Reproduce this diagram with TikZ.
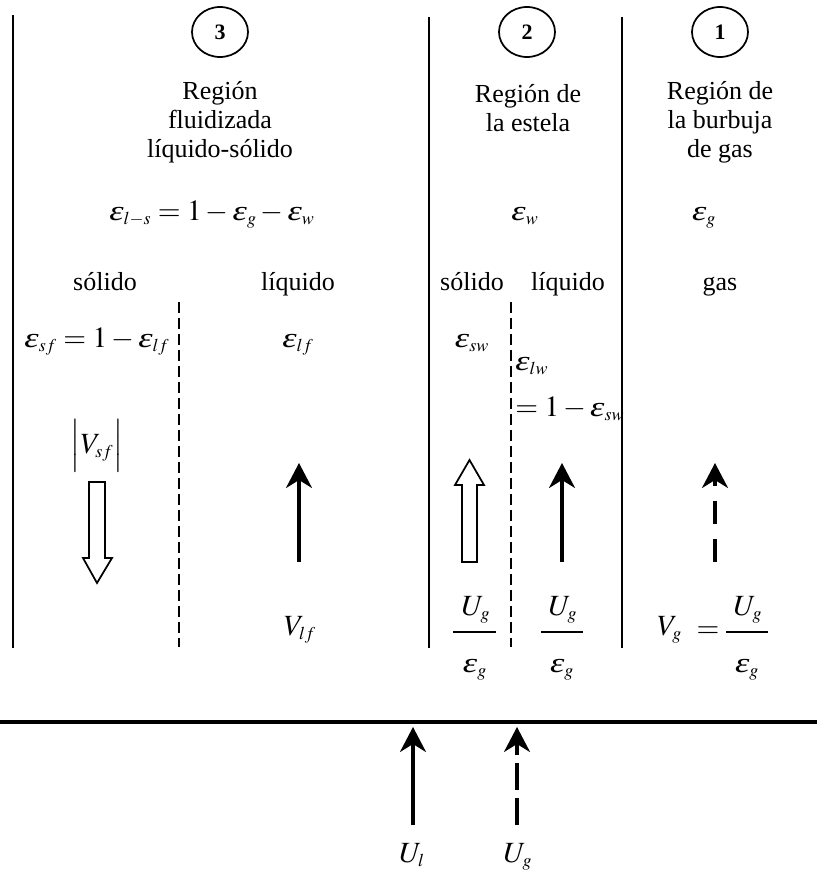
\documentclass[tikz,border=0pt]{standalone}
\usepackage{amsmath}
\usepackage{mathptmx}
\usepackage{graphicx}
\usepackage{fontspec}
\setmainfont{Liberation Serif}
\usetikzlibrary{arrows.meta,shapes.geometric}
\DeclareMathSizes{22}{22}{13.5}{10}
\newcommand\eps{\mbox{\fontsize{21pt}{21pt}\selectfont\itshape\scalebox{1.3}[1]{ε}}}
\tikzset{
  wall/.style={line width=1.5pt},
  divider/.style={line width=1.1pt, dash pattern=on 8.25pt off 3.75pt},
  circ/.style={draw, ellipse, minimum width=42pt, minimum height=37.5pt, line width=1.3pt, inner sep=0pt, font=\fontsize{16.5}{17}\selectfont\bfseries},
  txt/.style={font=\fontsize{19.5}{21.75}\selectfont, inner sep=0pt, align=center},
  mth/.style={font=\fontsize{22}{24}\selectfont, inner sep=0pt, anchor=base},
  bar/.style={line width=1.1pt},
  flow/.style={line width=2.4pt, -{Stealth[length=18.75pt,width=19.5pt,inset=6pt]}},
  hollow/.style={line width=1.3pt, draw, fill=white, line join=miter},
}
\begin{document}
\begin{tikzpicture}[x=0.75pt,y=-0.75pt]
\useasboundingbox (0,0) rectangle (817,875);
% walls
\coordinate (w1t) at (13,15);   \coordinate (w1b) at (13,648);
\coordinate (w2t) at (429,17);  \coordinate (w2b) at (429,648);
\coordinate (w3t) at (622,17);  \coordinate (w3b) at (622,648);
\draw[wall] (w1t) -- (w1b);
\draw[wall] (w2t) -- (w2b);
\draw[wall] (w3t) -- (w3b);
\coordinate (d1t) at (179,302); \coordinate (d1b) at (179,647);
\coordinate (d2t) at (511,302); \coordinate (d2b) at (511,647);
\draw[divider] (d1t) -- (d1b);
\draw[divider] (d2t) -- (d2b);
% distributor
\coordinate (hl) at (0,722); \coordinate (hr) at (817,722);
\draw[line width=3pt] (hl) -- (hr);
% circles
\node[circ] (c3) at (220,32) {3};
\node[circ] (c2) at (527,32) {2};
\node[circ] (c1) at (720,32) {1};
% titles
\node[txt] (t3) at (220,122) {Región\\fluidizada\\líquido-sólido};
\node[txt] (t2) at (528,108) {Región de\\la estela};
\node[txt] (t1) at (720,122) {Región de\\la burbuja\\de gas};
% holdups
\node[mth] (e3) at (212,220) {$\eps_{l-s}=1-\eps_{g}-\eps_{w}$};
\node[mth] (e2) at (525,220) {$\eps_{w}$};
\node[mth] (e1) at (704,220) {$\eps_{g}$};
% phase labels
\node[txt, anchor=base] (s3) at (105,290) {sólido};
\node[txt, anchor=base] (l3) at (298,290) {líquido};
\node[txt, anchor=base] (s2) at (472,290) {sólido};
\node[txt, anchor=base] (l2) at (568,290) {líquido};
\node[txt, anchor=base] (g1) at (720,290) {gas};
\node[mth] (esf) at (97,347) {$\eps_{sf}=1-\eps_{lf}$};
\node[mth] (elf) at (298,347) {$\eps_{lf}$};
\node[mth] (esw) at (472,347) {$\eps_{sw}$};
\node[mth, anchor=base west] (elw) at (515,370) {$\eps_{lw}$};
\node[mth, anchor=base west] (elw2) at (515,416) {$=1-\eps_{sw}$};
\node[mth, anchor=center] (vsf) at (97,446) {$\Big|V_{sf}\Big|$};
% hollow arrows
\draw[hollow] (89,482) -- (105,482) -- (105,558) -- (112,558) -- (97,583) -- (83,558) -- (89,558) -- cycle;
\draw[hollow] (462,562) -- (477,562) -- (477,485) -- (484,485) -- (469.5,460) -- (455,485) -- (462,485) -- cycle;
% flow arrows
\coordinate (a1b) at (299,562); \coordinate (a1t) at (299,463);
\coordinate (a2b) at (562,562); \coordinate (a2t) at (562,463);
\coordinate (a3b) at (715,562); \coordinate (a3t) at (715,463);
\draw[flow] (a1b) -- (a1t);
\draw[flow] (a2b) -- (a2t);
\draw[flow, dash pattern=on 17.25pt off 11.25pt] (a3b) -- (a3t);
% velocities
\node[mth] (vlf) at (300,635) {$V_{lf}$};
\node[mth] (f1n) at (476,615) {$U_{g}$};
\coordinate (f1l) at (453,632); \coordinate (f1r) at (496,632);
\draw[bar] (f1l) -- (f1r);
\node[mth] (f1d) at (475,672) {$\eps_{g}$};
\node[mth] (f2n) at (563,615) {$U_{g}$};
\coordinate (f2l) at (541,632); \coordinate (f2r) at (583,632);
\draw[bar] (f2l) -- (f2r);
\node[mth] (f2d) at (562,672) {$\eps_{g}$};
\node[mth, anchor=base west] (vg) at (657,635) {$V_{g}$};
\node[mth, anchor=center] (eq) at (708,632) {$=$};
\node[mth] (f3n) at (748,615) {$U_{g}$};
\coordinate (f3l) at (726,632); \coordinate (f3r) at (768,632);
\draw[bar] (f3l) -- (f3r);
\node[mth] (f3d) at (747,672) {$\eps_{g}$};
% inlet arrows
\coordinate (b1b) at (413,825); \coordinate (b1t) at (413,727);
\coordinate (b2b) at (517,825); \coordinate (b2t) at (517,727);
\draw[flow] (b1b) -- (b1t);
\draw[flow, dash pattern=on 20.25pt off 6pt] (b2b) -- (b2t);
\node[mth] (ul) at (412,862) {$U_{l}$};
\node[mth] (ug) at (518,862) {$U_{g}$};
\end{tikzpicture}
\end{document}
